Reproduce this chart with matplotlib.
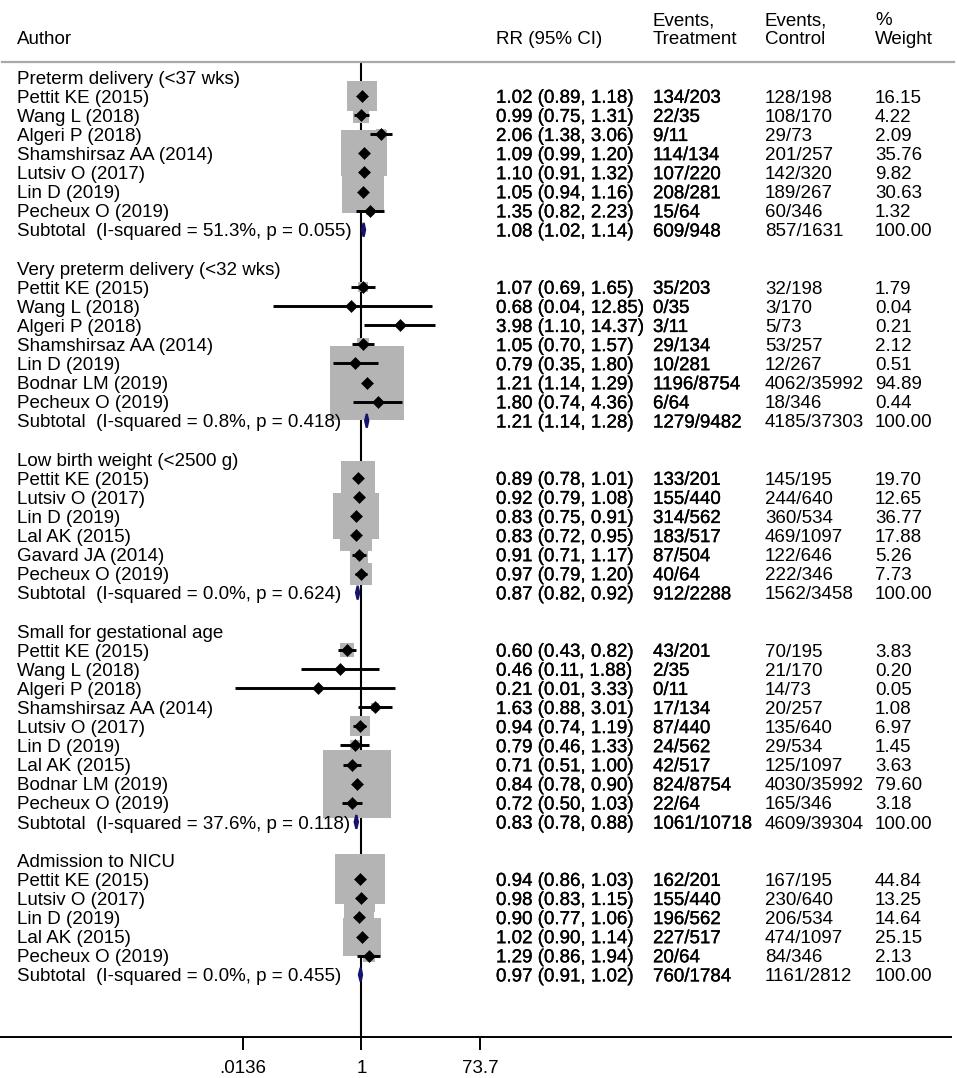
import matplotlib
matplotlib.use("Agg")
import matplotlib.pyplot as plt
import matplotlib.patheffects as pe
import numpy as np
from matplotlib.transforms import blended_transform_factory
from matplotlib.ticker import NullLocator

# ---------------- data ----------------
group_titles = ["Preterm delivery (<37 wks)", "Very preterm delivery (<32 wks)",
                "Low birth weight (<2500 g)", "Small for gestational age",
                "Admission to NICU"]

study_names = [
    ["Pettit KE (2015)", "Wang L (2018)", "Algeri P (2018)", "Shamshirsaz AA (2014)",
     "Lutsiv O (2017)", "Lin D (2019)", "Pecheux O (2019)"],
    ["Pettit KE (2015)", "Wang L (2018)", "Algeri P (2018)", "Shamshirsaz AA (2014)",
     "Lin D (2019)", "Bodnar LM (2019)", "Pecheux O (2019)"],
    ["Pettit KE (2015)", "Lutsiv O (2017)", "Lin D (2019)", "Lal AK (2015)",
     "Gavard JA (2014)", "Pecheux O (2019)"],
    ["Pettit KE (2015)", "Wang L (2018)", "Algeri P (2018)", "Shamshirsaz AA (2014)",
     "Lutsiv O (2017)", "Lin D (2019)", "Lal AK (2015)", "Bodnar LM (2019)",
     "Pecheux O (2019)"],
    ["Pettit KE (2015)", "Lutsiv O (2017)", "Lin D (2019)", "Lal AK (2015)",
     "Pecheux O (2019)"],
]

rr = [[1.02, 0.99, 2.06, 1.09, 1.10, 1.05, 1.35],
      [1.07, 0.68, 3.98, 1.05, 0.79, 1.21, 1.80],
      [0.89, 0.92, 0.83, 0.83, 0.91, 0.97],
      [0.60, 0.46, 0.21, 1.63, 0.94, 0.79, 0.71, 0.84, 0.72],
      [0.94, 0.98, 0.90, 1.02, 1.29]]
lci = [[0.89, 0.75, 1.38, 0.99, 0.91, 0.94, 0.82],
       [0.69, 0.04, 1.10, 0.70, 0.35, 1.14, 0.74],
       [0.78, 0.79, 0.75, 0.72, 0.71, 0.79],
       [0.43, 0.11, 0.01, 0.88, 0.74, 0.46, 0.51, 0.78, 0.50],
       [0.86, 0.83, 0.77, 0.90, 0.86]]
uci = [[1.18, 1.31, 3.06, 1.20, 1.32, 1.16, 2.23],
       [1.65, 12.85, 14.37, 1.57, 1.80, 1.29, 4.36],
       [1.01, 1.08, 0.91, 0.95, 1.17, 1.20],
       [0.82, 1.88, 3.33, 3.01, 1.19, 1.33, 1.00, 0.90, 1.03],
       [1.03, 1.15, 1.06, 1.14, 1.94]]
events_treat = [["134/203", "22/35", "9/11", "114/134", "107/220", "208/281", "15/64"],
                ["35/203", "0/35", "3/11", "29/134", "10/281", "1196/8754", "6/64"],
                ["133/201", "155/440", "314/562", "183/517", "87/504", "40/64"],
                ["43/201", "2/35", "0/11", "17/134", "87/440", "24/562", "42/517",
                 "824/8754", "22/64"],
                ["162/201", "155/440", "196/562", "227/517", "20/64"]]
events_ctrl = [["128/198", "108/170", "29/73", "201/257", "142/320", "189/267", "60/346"],
               ["32/198", "3/170", "5/73", "53/257", "12/267", "4062/35992", "18/346"],
               ["145/195", "244/640", "360/534", "469/1097", "122/646", "222/346"],
               ["70/195", "21/170", "14/73", "20/257", "135/640", "29/534", "125/1097",
                "4030/35992", "165/346"],
               ["167/195", "230/640", "206/534", "474/1097", "84/346"]]
weights = [[16.15, 4.22, 2.09, 35.76, 9.82, 30.63, 1.32],
           [1.79, 0.04, 0.21, 2.12, 0.51, 94.89, 0.44],
           [19.70, 12.65, 36.77, 17.88, 5.26, 7.73],
           [3.83, 0.20, 0.05, 1.08, 6.97, 1.45, 3.63, 79.60, 3.18],
           [44.84, 13.25, 14.64, 25.15, 2.13]]

sub_i2 = ["51.3%", "0.8%", "0.0%", "37.6%", "0.0%"]
sub_p = ["0.055", "0.418", "0.624", "0.118", "0.455"]
sub_rr = [1.08, 1.21, 0.87, 0.83, 0.97]
sub_lci = [1.02, 1.14, 0.82, 0.78, 0.91]
sub_uci = [1.14, 1.28, 0.92, 0.88, 1.02]
sub_events_treat = ["609/948", "1279/9482", "912/2288", "1061/10718", "760/1784"]
sub_events_ctrl = ["857/1631", "4185/37303", "1562/3458", "4609/39304", "1161/2812"]
sub_weight = ["100.00"] * 5

tick_values = [0.0136, 1, 73.7]
tick_labels = [".0136", "1", "73.7"]

# ---------------- layout ----------------
plt.rcParams["font.family"] = ["Liberation Sans", "DejaVu Sans"]
FS = 13.5
W, H = 957, 1078
AX_BOTTOM, AX_RIGHT = 1037, 951
NULL_PX, PX_PER_LN = 361.5, 27.57
ROW0, ROWH = 77.0, 19.1

fig = plt.figure(figsize=(W / 100, H / 100), dpi=100)
ax = fig.add_axes([0, (H - AX_BOTTOM) / H, AX_RIGHT / W, AX_BOTTOM / H])
ax.set_xscale("log")
ax.set_xlim(np.exp(-NULL_PX / PX_PER_LN), np.exp((AX_RIGHT - NULL_PX) / PX_PER_LN))
ax.set_ylim((AX_BOTTOM - ROW0) / ROWH, -ROW0 / ROWH)

tr = blended_transform_factory(ax.transAxes, ax.transData)
col_author, col_rr, col_t, col_c, col_w = [p / AX_RIGHT for p in (17, 496, 653, 765, 875)]
BASE = 0.35  # baseline offset (rows) so caps are centred on the row
heavy = [pe.withStroke(linewidth=0.22, foreground="black")]


def txt(x, row, s, strong=False):
    ax.text(x, row + BASE, s, transform=tr, fontsize=FS, va="baseline", ha="left",
            color="black", path_effects=heavy if strong else None)


# header
hdr_row = (44.5 - ROW0) / ROWH
hdr_row2 = (25.0 - ROW0) / ROWH
ax.text(col_author, hdr_row, "Author", transform=tr, fontsize=FS, va="baseline")
ax.text(col_rr, hdr_row, "RR (95% CI)", transform=tr, fontsize=FS, va="baseline")
ax.text(col_t, hdr_row2, "Events,", transform=tr, fontsize=FS, va="baseline")
ax.text(col_t, hdr_row, "Treatment", transform=tr, fontsize=FS, va="baseline")
ax.text(col_c, hdr_row2, "Events,", transform=tr, fontsize=FS, va="baseline")
ax.text(col_c, hdr_row, "Control", transform=tr, fontsize=FS, va="baseline")
ax.text(col_w, hdr_row2, "%", transform=tr, fontsize=FS, va="baseline")
ax.text(col_w, hdr_row, "Weight", transform=tr, fontsize=FS, va="baseline")

line_row = (62 - ROW0) / ROWH
fig.add_artist(plt.Line2D([0.002, 0.997], [1 - 62 / H, 1 - 62 / H],
                          color="#a9a9a9", lw=1.6))

# null line
ax.vlines(1, line_row, (AX_BOTTOM - ROW0) / ROWH, color="black", lw=1.5, zorder=1)

BOX_K = (7.6 * 0.72) ** 2  # points^2 per % weight

row = 0
for g, title in enumerate(group_titles):
    txt(col_author, row, title)
    row += 1
    for j, name in enumerate(study_names[g]):
        r, l, u, w = rr[g][j], lci[g][j], uci[g][j], weights[g][j]
        ax.scatter([r], [row], s=BOX_K * w, marker="s", color="#b4b4b4",
                   linewidths=0, zorder=2)
        ax.plot([l, u], [row, row], color="black", lw=2.1, zorder=3,
                solid_capstyle="butt")
        ax.plot([r], [row], marker="D", ms=6.3, color="black", mew=0.4, zorder=4)
        txt(col_author, row, name)
        txt(col_rr, row, f"{r:.2f} ({l:.2f}, {u:.2f})", strong=True)
        txt(col_t, row, events_treat[g][j], strong=True)
        txt(col_c, row, events_ctrl[g][j])
        txt(col_w, row, f"{w:.2f}")
        row += 1
    # subtotal diamond
    h = 0.36
    ax.fill([sub_lci[g], sub_rr[g], sub_uci[g], sub_rr[g]],
            [row, row - h, row, row + h], facecolor="#14146e",
            edgecolor="#14146e", lw=1.6, zorder=5)
    txt(col_author, row, f"Subtotal  (I-squared = {sub_i2[g]}, p = {sub_p[g]})")
    txt(col_rr, row, f"{sub_rr[g]:.2f} ({sub_lci[g]:.2f}, {sub_uci[g]:.2f})", strong=True)
    txt(col_t, row, sub_events_treat[g], strong=True)
    txt(col_c, row, sub_events_ctrl[g])
    txt(col_w, row, sub_weight[g])
    row += 2

# axis
for s in ("top", "left", "right"):
    ax.spines[s].set_visible(False)
ax.spines["bottom"].set_linewidth(1.4)
ax.set_yticks([])
ax.set_xticks(tick_values)
ax.set_xticklabels(tick_labels)
ax.xaxis.set_minor_locator(NullLocator())
ax.tick_params(axis="x", direction="out", length=9.4, width=1.4, pad=7,
               labelsize=FS)
ax.patch.set_alpha(0)

fig.savefig("out.png", dpi=100)
